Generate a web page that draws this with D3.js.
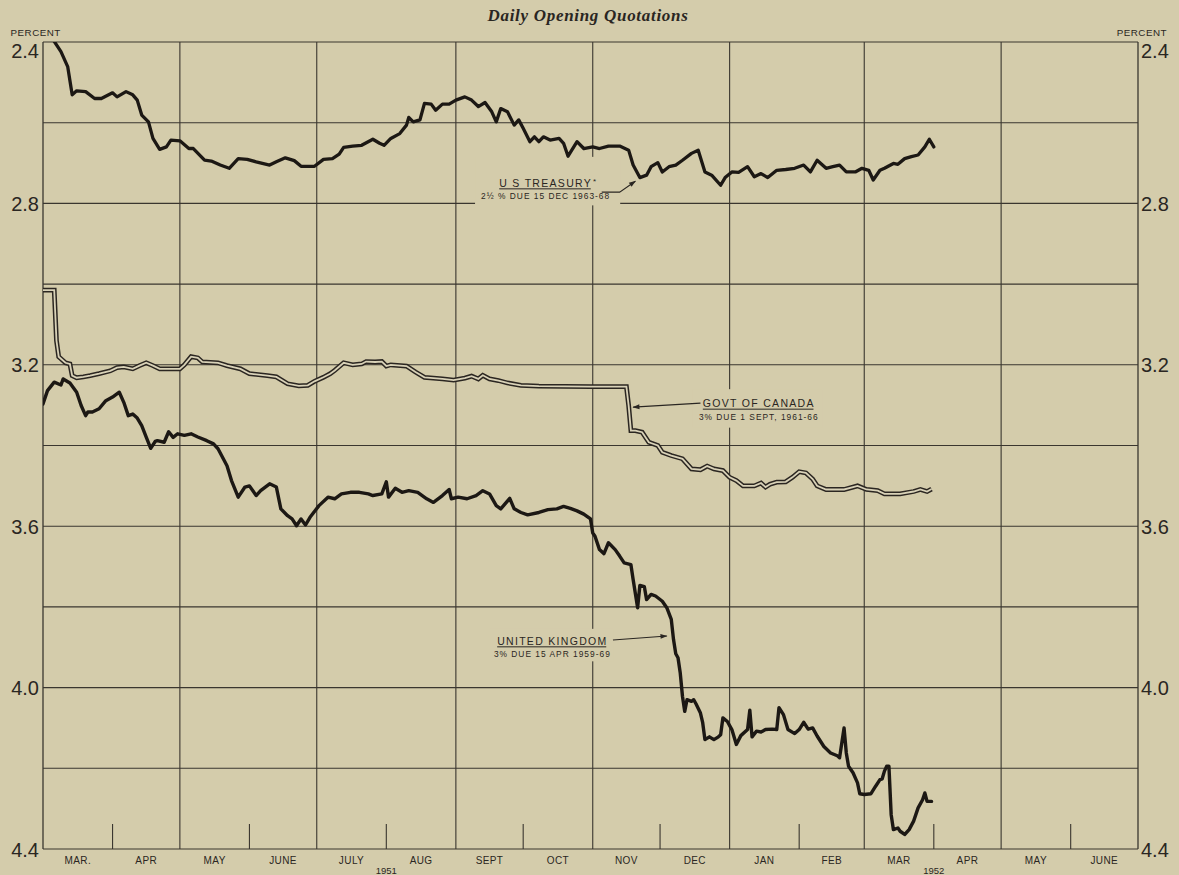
<!DOCTYPE html>
<html><head><meta charset="utf-8">
<script src="https://cdn.jsdelivr.net/npm/d3@7"></script>
<style>
html,body{margin:0;padding:0;background:#d4ccab;}
svg{display:block;}
</style>
</head><body>
<svg id="chart" width="1179" height="875"></svg>
<script>
// ---------- DATA ----------
const xDomain = ["1951-03-01", "1952-07-01"];
const yDomain = [2.4, 4.4];
const gridStep = 0.2;
const yTickLabels = [2.4, 2.8, 3.2, 3.6, 4.0, 4.4];
const monthLabels = ["MAR.","APR","MAY","JUNE","JULY","AUG","SEPT","OCT","NOV","DEC","JAN","FEB","MAR","APR","MAY","JUNE"];
const yearLabels = [["1951","1951-08-01"],["1952","1952-04-01"]];
const chartTitle = "Daily Opening Quotations";

const usTreasury = [
["1951-03-05",2.39],["1951-03-09",2.424],["1951-03-12",2.461],["1951-03-14",2.531],["1951-03-16",2.521],
["1951-03-20",2.523],["1951-03-24",2.540],["1951-03-27",2.540],["1951-04-01",2.526],["1951-04-03",2.536],
["1951-04-07",2.523],["1951-04-10",2.531],["1951-04-12",2.544],["1951-04-14",2.581],["1951-04-17",2.598],
["1951-04-19",2.639],["1951-04-22",2.666],["1951-04-25",2.660],["1951-04-27",2.643],["1951-05-01",2.645],
["1951-05-05",2.664],["1951-05-07",2.664],["1951-05-12",2.693],["1951-05-15",2.695],["1951-05-19",2.705],
["1951-05-23",2.713],["1951-05-27",2.689],["1951-05-31",2.691],["1951-06-04",2.697],["1951-06-10",2.705],
["1951-06-13",2.697],["1951-06-17",2.687],["1951-06-21",2.694],["1951-06-24",2.708],["1951-06-30",2.708],
["1951-07-04",2.691],["1951-07-08",2.689],["1951-07-11",2.678],["1951-07-13",2.661],["1951-07-17",2.658],
["1951-07-21",2.656],["1951-07-26",2.641],["1951-07-29",2.651],["1951-07-31",2.656],["1951-08-03",2.639],
["1951-08-07",2.627],["1951-08-10",2.606],["1951-08-11",2.587],["1951-08-13",2.598],["1951-08-16",2.593],
["1951-08-18",2.552],["1951-08-21",2.554],["1951-08-23",2.569],["1951-08-26",2.554],["1951-08-29",2.554],
["1951-09-01",2.544],["1951-09-05",2.536],["1951-09-08",2.544],["1951-09-11",2.560],["1951-09-14",2.550],
["1951-09-17",2.573],["1951-09-19",2.598],["1951-09-21",2.565],["1951-09-24",2.573],["1951-09-27",2.606],
["1951-09-29",2.593],["1951-10-01",2.614],["1951-10-04",2.647],["1951-10-06",2.635],["1951-10-08",2.647],
["1951-10-10",2.635],["1951-10-13",2.643],["1951-10-17",2.639],["1951-10-19",2.651],["1951-10-21",2.683],
["1951-10-25",2.647],["1951-10-28",2.664],["1951-11-01",2.660],["1951-11-04",2.664],["1951-11-08",2.658],
["1951-11-13",2.658],["1951-11-17",2.668],["1951-11-19",2.705],["1951-11-22",2.736],["1951-11-25",2.730],
["1951-11-27",2.709],["1951-11-30",2.699],["1951-12-02",2.722],["1951-12-05",2.709],["1951-12-08",2.705],
["1951-12-11",2.693],["1951-12-15",2.676],["1951-12-18",2.668],["1951-12-21",2.722],["1951-12-24",2.730],
["1951-12-28",2.755],["1951-12-30",2.736],["1952-01-02",2.722],["1952-01-05",2.723],["1952-01-09",2.709],
["1952-01-12",2.734],["1952-01-15",2.726],["1952-01-18",2.736],["1952-01-22",2.718],["1952-01-26",2.716],
["1952-01-30",2.713],["1952-02-03",2.705],["1952-02-06",2.722],["1952-02-09",2.693],["1952-02-13",2.713],
["1952-02-16",2.709],["1952-02-19",2.705],["1952-02-22",2.722],["1952-02-26",2.722],["1952-02-29",2.713],
["1952-03-03",2.718],["1952-03-05",2.742],["1952-03-08",2.718],["1952-03-10",2.713],["1952-03-14",2.701],
["1952-03-16",2.703],["1952-03-19",2.689],["1952-03-22",2.684],["1952-03-25",2.680],["1952-03-28",2.660],
["1952-03-30",2.641],["1952-04-01",2.660]
];

const govtCanada = [
["1951-03-01",3.015],["1951-03-06",3.015],["1951-03-07",3.14],["1951-03-08",3.18],["1951-03-09",3.185],
["1951-03-11",3.195],["1951-03-13",3.198],["1951-03-14",3.227],["1951-03-16",3.232],["1951-03-19",3.230],
["1951-03-22",3.227],["1951-03-26",3.222],["1951-03-31",3.215],["1951-04-03",3.207],["1951-04-06",3.205],
["1951-04-10",3.21],["1951-04-13",3.202],["1951-04-16",3.195],["1951-04-19",3.202],["1951-04-22",3.21],
["1951-04-27",3.21],["1951-05-01",3.21],["1951-05-03",3.2],["1951-05-06",3.18],["1951-05-09",3.183],
["1951-05-11",3.193],["1951-05-18",3.195],["1951-05-22",3.202],["1951-05-28",3.21],["1951-06-01",3.222],
["1951-06-09",3.227],["1951-06-13",3.23],["1951-06-18",3.247],["1951-06-23",3.252],["1951-06-27",3.251],
["1951-06-30",3.241],["1951-07-04",3.231],["1951-07-07",3.222],["1951-07-09",3.214],["1951-07-13",3.195],
["1951-07-17",3.2],["1951-07-21",3.198],["1951-07-23",3.192],["1951-07-27",3.193],["1951-07-30",3.192],
["1951-08-01",3.203],["1951-08-03",3.2],["1951-08-10",3.203],["1951-08-14",3.218],["1951-08-18",3.231],
["1951-08-22",3.233],["1951-08-26",3.235],["1951-08-31",3.238],["1951-09-05",3.233],["1951-09-08",3.228],
["1951-09-11",3.235],["1951-09-13",3.226],["1951-09-16",3.235],["1951-09-20",3.239],["1951-09-24",3.245],
["1951-09-30",3.251],["1951-10-08",3.253],["1951-10-31",3.254],["1951-11-16",3.254],["1951-11-17",3.301],
["1951-11-18",3.363],["1951-11-20",3.363],["1951-11-23",3.367],["1951-11-26",3.392],["1951-11-30",3.40],
["1951-12-02",3.417],["1951-12-06",3.425],["1951-12-11",3.433],["1951-12-15",3.458],["1951-12-19",3.46],
["1951-12-22",3.451],["1951-12-25",3.458],["1951-12-29",3.462],["1952-01-01",3.479],["1952-01-04",3.487],
["1952-01-07",3.50],["1952-01-12",3.50],["1952-01-15",3.493],["1952-01-17",3.503],["1952-01-19",3.496],
["1952-01-22",3.491],["1952-01-26",3.49],["1952-01-29",3.479],["1952-02-01",3.465],["1952-02-04",3.468],
["1952-02-07",3.483],["1952-02-09",3.50],["1952-02-13",3.509],["1952-02-21",3.509],["1952-02-25",3.503],
["1952-02-27",3.50],["1952-03-02",3.509],["1952-03-07",3.512],["1952-03-10",3.52],["1952-03-17",3.52],
["1952-03-23",3.514],["1952-03-26",3.509],["1952-03-29",3.514],["1952-03-31",3.508]
];

const unitedKingdom = [
["1951-03-01",3.297],["1951-03-03",3.264],["1951-03-06",3.243],["1951-03-09",3.25],["1951-03-10",3.235],
["1951-03-13",3.245],["1951-03-16",3.268],["1951-03-18",3.301],["1951-03-20",3.326],["1951-03-21",3.317],
["1951-03-23",3.317],["1951-03-26",3.309],["1951-03-29",3.289],["1951-04-01",3.28],["1951-04-04",3.268],
["1951-04-06",3.293],["1951-04-08",3.326],["1951-04-10",3.322],["1951-04-12",3.332],["1951-04-14",3.351],
["1951-04-16",3.379],["1951-04-18",3.407],["1951-04-20",3.39],["1951-04-21",3.388],["1951-04-24",3.392],
["1951-04-26",3.366],["1951-04-28",3.38],["1951-04-30",3.371],["1951-05-03",3.375],["1951-05-06",3.371],
["1951-05-09",3.379],["1951-05-13",3.388],["1951-05-16",3.396],["1951-05-18",3.408],["1951-05-22",3.45],
["1951-05-24",3.487],["1951-05-27",3.528],["1951-05-30",3.503],["1951-06-01",3.50],["1951-06-04",3.524],
["1951-06-06",3.512],["1951-06-10",3.495],["1951-06-13",3.503],["1951-06-15",3.557],["1951-06-18",3.574],
["1951-06-20",3.582],["1951-06-22",3.599],["1951-06-24",3.582],["1951-06-26",3.597],["1951-06-28",3.578],
["1951-07-02",3.549],["1951-07-06",3.528],["1951-07-09",3.532],["1951-07-12",3.52],["1951-07-16",3.516],
["1951-07-20",3.516],["1951-07-24",3.52],["1951-07-26",3.524],["1951-07-30",3.52],["1951-08-01",3.49],
["1951-08-02",3.528],["1951-08-05",3.506],["1951-08-08",3.516],["1951-08-11",3.512],["1951-08-15",3.516],
["1951-08-19",3.532],["1951-08-22",3.541],["1951-08-26",3.524],["1951-08-29",3.509],["1951-08-30",3.532],
["1951-09-02",3.528],["1951-09-06",3.532],["1951-09-10",3.524],["1951-09-13",3.512],["1951-09-16",3.52],
["1951-09-19",3.549],["1951-09-21",3.557],["1951-09-25",3.531],["1951-09-27",3.557],["1951-09-30",3.566],
["1951-10-03",3.572],["1951-10-08",3.566],["1951-10-12",3.559],["1951-10-16",3.557],["1951-10-19",3.551],
["1951-10-22",3.556],["1951-10-25",3.562],["1951-10-28",3.570],["1951-10-31",3.582],["1951-11-01",3.617],
["1951-11-02",3.625],["1951-11-04",3.658],["1951-11-06",3.668],["1951-11-08",3.641],["1951-11-11",3.658],
["1951-11-13",3.674],["1951-11-15",3.691],["1951-11-18",3.695],["1951-11-19",3.732],["1951-11-21",3.802],
["1951-11-22",3.747],["1951-11-24",3.75],["1951-11-25",3.782],["1951-11-27",3.769],["1951-11-29",3.773],
["1951-12-02",3.786],["1951-12-04",3.802],["1951-12-06",3.831],["1951-12-07",3.881],["1951-12-08",3.916],
["1951-12-09",3.926],["1951-12-10",3.964],["1951-12-11",4.022],["1951-12-12",4.059],["1951-12-13",4.030],
["1951-12-15",4.034],["1951-12-16",4.03],["1951-12-17",4.040],["1951-12-19",4.063],["1951-12-20",4.087],
["1951-12-21",4.129],["1951-12-23",4.122],["1951-12-25",4.129],["1951-12-27",4.122],["1951-12-28",4.117],
["1951-12-29",4.075],["1951-12-31",4.084],["1952-01-02",4.104],["1952-01-04",4.141],["1952-01-06",4.119],
["1952-01-09",4.104],["1952-01-10",4.056],["1952-01-11",4.122],["1952-01-13",4.108],["1952-01-15",4.110],
["1952-01-17",4.104],["1952-01-20",4.103],["1952-01-22",4.104],["1952-01-23",4.050],["1952-01-25",4.067],
["1952-01-27",4.104],["1952-01-30",4.114],["1952-02-01",4.104],["1952-02-03",4.086],["1952-02-05",4.103],
["1952-02-07",4.10],["1952-02-09",4.12],["1952-02-12",4.146],["1952-02-15",4.162],["1952-02-18",4.169],
["1952-02-19",4.174],["1952-02-21",4.10],["1952-02-22",4.162],["1952-02-23",4.195],["1952-02-25",4.211],
["1952-02-27",4.236],["1952-02-28",4.263],["1952-03-01",4.265],["1952-03-04",4.263],["1952-03-06",4.245],
["1952-03-08",4.228],["1952-03-09",4.226],["1952-03-10",4.207],["1952-03-11",4.195],["1952-03-12",4.195],
["1952-03-13",4.315],["1952-03-14",4.352],["1952-03-16",4.348],["1952-03-17",4.356],["1952-03-19",4.364],
["1952-03-21",4.352],["1952-03-23",4.331],["1952-03-25",4.298],["1952-03-27",4.278],["1952-03-28",4.261],
["1952-03-29",4.282],["1952-03-31",4.282]
];

const annotations = [
  {key:"us", title:"U S TREASURY", mark:"*", sub:"2\u00BD % DUE 15 DEC 1963-68",
   at:["1951-10-11",2.759],
   arrow:[["1951-11-05",2.772],["1951-11-13",2.772],["1951-11-20",2.745]]},
  {key:"ca", title:"GOVT OF CANADA", mark:"", sub:"3% DUE 1 SEPT, 1961-66",
   at:["1952-01-14",3.305],
   arrow:[["1951-12-19",3.295],["1951-11-19",3.305]]},
  {key:"uk", title:"UNITED KINGDOM", mark:"", sub:"3% DUE 15 APR 1959-69",
   at:["1951-10-14",3.894],
   arrow:[["1951-11-10",3.882],["1951-12-04",3.872]]}
];

// ---------- CHART ----------
const parse = d3.timeParse("%Y-%m-%d");
const W = 1179, H = 875;
const plot = {left:43, right:1138, top:42, bottom:849};
const bg = "#d4ccab";
const ink = "#2a2622";
const gridCol = "#3a362f";

const x = d3.scaleTime().domain(xDomain.map(parse)).range([plot.left, plot.right]);
const y = d3.scaleLinear().domain(yDomain).range([plot.top, plot.bottom]);

const svg = d3.select("#chart");
svg.append("rect").attr("width", W).attr("height", H).attr("fill", bg);

const defs = svg.append("defs");
defs.append("clipPath").attr("id","plotclip").append("rect")
  .attr("x", plot.left).attr("y", plot.top)
  .attr("width", plot.right - plot.left).attr("height", plot.bottom - plot.top);
defs.append("marker").attr("id","arrowhead").attr("viewBox","0 0 10 10")
  .attr("refX",9).attr("refY",5).attr("markerWidth",9).attr("markerHeight",7)
  .attr("markerUnits","userSpaceOnUse").attr("orient","auto")
  .append("path").attr("d","M0,1.5 L10,5 L0,8.5 Z").attr("fill", ink);

const gridLayer = svg.append("g");
const maskLayer = svg.append("g");
const lineLayer = svg.append("g").attr("clip-path","url(#plotclip)");
const textLayer = svg.append("g");

// horizontal grid lines
const nGrid = Math.round((yDomain[1]-yDomain[0])/gridStep);
const gridVals = d3.range(nGrid+1).map(i => yDomain[0] + i*gridStep);
gridLayer.selectAll("line.h").data(gridVals).join("line")
  .attr("x1", plot.left).attr("x2", plot.right)
  .attr("y1", d => y(d)).attr("y2", d => y(d))
  .attr("stroke", gridCol).attr("stroke-width", 1.1);

// vertical grid lines: every second month full height, others short ticks
const months = d3.timeMonth.range(parse(xDomain[0]), d3.timeDay.offset(parse(xDomain[1]), 1));
gridLayer.selectAll("line.v").data(months).join("line")
  .attr("x1", d => x(d)).attr("x2", d => x(d))
  .attr("y1", (d,i) => i % 2 === 0 ? plot.top : plot.bottom - 25)
  .attr("y2", plot.bottom)
  .attr("stroke", gridCol).attr("stroke-width", (d,i) => (i===0 || i===months.length-1) ? 1.3 : 1.1);

// month labels at mid-month
const monthMids = months.slice(0, monthLabels.length).map(d => new Date((+d + +d3.timeMonth.offset(d,1))/2));
textLayer.selectAll("text.month").data(monthLabels).join("text")
  .attr("x", (d,i) => x(monthMids[i])).attr("y", 864)
  .attr("text-anchor","middle")
  .attr("font-family","'Liberation Sans', Arial, sans-serif")
  .attr("font-size", 10).attr("letter-spacing", 0.4).attr("fill", ink)
  .text(d => d);

textLayer.selectAll("text.year").data(yearLabels).join("text")
  .attr("x", d => x(parse(d[1]))).attr("y", 874)
  .attr("text-anchor","middle")
  .attr("font-family","'Liberation Sans', Arial, sans-serif")
  .attr("font-size", 9.5).attr("fill", ink)
  .text(d => d[0]);

// y labels both sides
const fmt = d3.format(".1f");
const yLabelBaseline = v => v === yDomain[0] ? y(v) + 16 : y(v) + 7.5;
textLayer.selectAll("text.yl").data(yTickLabels).join("text")
  .attr("x", plot.left - 4).attr("y", yLabelBaseline)
  .attr("text-anchor","end")
  .attr("font-family","'Liberation Sans', Arial, sans-serif")
  .attr("font-size", 20).attr("fill", ink)
  .text(fmt);
textLayer.selectAll("text.yr").data(yTickLabels).join("text")
  .attr("x", plot.right + 3).attr("y", yLabelBaseline)
  .attr("text-anchor","start")
  .attr("font-family","'Liberation Sans', Arial, sans-serif")
  .attr("font-size", 20).attr("fill", ink)
  .text(fmt);

[[10.5,"start"],[1167,"end"]].forEach(([px, anchor]) => {
  textLayer.append("text").attr("x", px).attr("y", 36)
    .attr("text-anchor", anchor)
    .attr("font-family","'Liberation Sans', Arial, sans-serif")
    .attr("font-size", 9.8).attr("letter-spacing", 0.5).attr("fill", ink)
    .text("PERCENT");
});

// title
textLayer.append("text").attr("x", 588).attr("y", 21)
  .attr("text-anchor","middle")
  .attr("font-family","'Liberation Serif', 'DejaVu Serif', serif")
  .attr("font-style","italic").attr("font-weight","bold")
  .attr("font-size", 17).attr("letter-spacing", 0.7).attr("fill", ink)
  .text(chartTitle);

// data lines
const line = d3.line().x(d => x(parse(d[0]))).y(d => y(d[1]));
lineLayer.append("path").datum(usTreasury).attr("d", line)
  .attr("fill","none").attr("stroke","#1c1814").attr("stroke-width",3.3)
  .attr("stroke-linejoin","round").attr("stroke-linecap","round");
lineLayer.append("path").datum(unitedKingdom).attr("d", line)
  .attr("fill","none").attr("stroke","#1c1814").attr("stroke-width",3.4)
  .attr("stroke-linejoin","round").attr("stroke-linecap","round");
lineLayer.append("path").datum(govtCanada).attr("d", line)
  .attr("fill","none").attr("stroke","#2b2621").attr("stroke-width",4.8)
  .attr("stroke-linejoin","miter").attr("stroke-linecap","butt");
lineLayer.append("path").datum(govtCanada).attr("d", line)
  .attr("fill","none").attr("stroke","#d9d2b8").attr("stroke-width",1.8)
  .attr("stroke-linejoin","miter").attr("stroke-linecap","butt");

// annotations
const pads = {us:{l:6,r:10,t:20,b:4}, ca:{l:6,r:4,t:8,b:6}, uk:{l:3,r:3,t:6,b:2}};
annotations.forEach(a => {
  const ax = x(parse(a.at[0])), ay = y(a.at[1]);
  const g = textLayer.append("g");
  const t = g.append("text").attr("x", ax).attr("y", ay)
    .attr("text-anchor","middle")
    .attr("font-family","'Liberation Sans', Arial, sans-serif")
    .attr("font-size", 10.5).attr("letter-spacing", 1.3).attr("fill", ink)
    .text(a.title);
  const tb = t.node().getBBox();
  g.append("line").attr("x1", tb.x).attr("x2", tb.x + tb.width - 1.3)
    .attr("y1", ay + 2).attr("y2", ay + 2).attr("stroke", ink).attr("stroke-width", 1);
  if (a.mark) {
    g.append("text").attr("x", tb.x + tb.width + 1).attr("y", ay - 3)
      .attr("font-family","'Liberation Sans', Arial, sans-serif")
      .attr("font-size", 8).attr("fill", ink).text(a.mark);
  }
  const s = g.append("text").attr("x", ax).attr("y", ay + 12.5)
    .attr("text-anchor","middle")
    .attr("font-family","'Liberation Sans', Arial, sans-serif")
    .attr("font-size", 8.4).attr("letter-spacing", 1.0).attr("fill", ink)
    .text(a.sub);
  const sb = s.node().getBBox();
  const p = pads[a.key];
  const x0 = Math.min(tb.x, sb.x) - p.l, x1 = Math.max(tb.x + tb.width, sb.x + sb.width) + p.r;
  const y0 = tb.y - p.t, y1 = sb.y + sb.height + p.b;
  maskLayer.append("rect").attr("x", x0).attr("y", y0)
    .attr("width", x1 - x0).attr("height", y1 - y0).attr("fill", bg);
  // leader arrow
  const pts = a.arrow.map(d => [x(parse(d[0])), y(d[1])]);
  g.append("path").attr("d", d3.line()(pts))
    .attr("fill","none").attr("stroke", ink).attr("stroke-width", 1.1)
    .attr("marker-end","url(#arrowhead)");
});
</script>
</body></html>
